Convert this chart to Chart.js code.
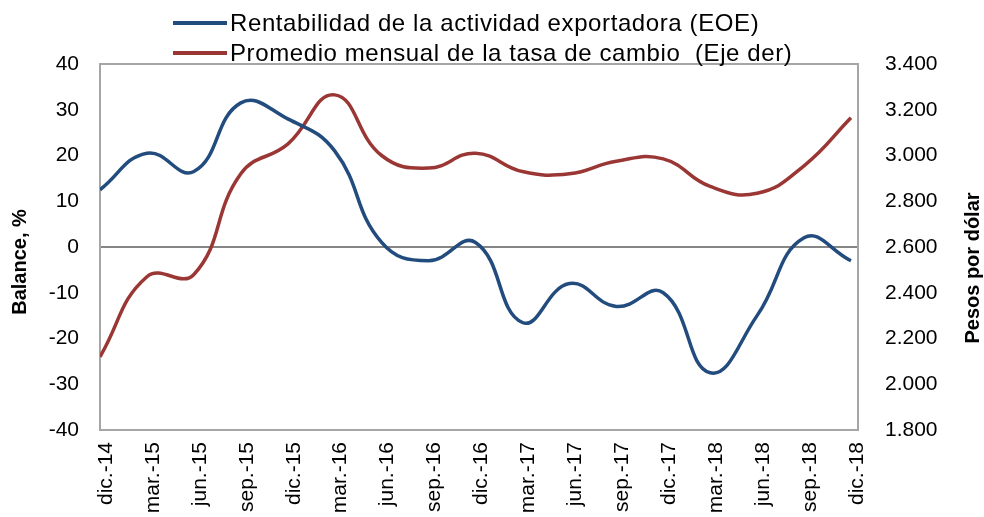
<!DOCTYPE html>
<html>
<head>
<meta charset="utf-8">
<script src="https://cdn.jsdelivr.net/npm/chart.js@4.4.0/dist/chart.umd.min.js"></script>
<style>
  body { margin: 0; background: #fff; }
  #wrap { position: relative; width: 984px; height: 517px; }
  #legend { position: absolute; left: 173px; top: 8px; font-family: "Liberation Sans", Arial, sans-serif; font-size: 24px; letter-spacing: 0.6px; color: #000; }
  .item { display: flex; align-items: center; height: 30px; white-space: pre; }
  .swatch { width: 54px; height: 4px; margin-right: 3px; }
</style>
</head>
<body>
<div id="wrap">
  <canvas id="chart" width="984" height="517"></canvas>
  <div id="legend"></div>
</div>
<script>
// Datos trimestrales
const labels = ['dic.-14', 'mar.-15', 'jun.-15', 'sep.-15', 'dic.-15', 'mar.-16', 'jun.-16', 'sep.-16', 'dic.-16',
  'mar.-17', 'jun.-17', 'sep.-17', 'dic.-17', 'mar.-18', 'jun.-18', 'sep.-18', 'dic.-18'];
const rentabilidad = [12.5, 20.5, 16.5, 31.5, 28, 21, 1, -3, 1, -16.5, -8, -13, -10, -27.5, -15, 2, -3];
const tasaCambio = [2120, 2470, 2480, 2920, 3050, 3265, 3000, 2945, 3010, 2930, 2920, 2975, 2985, 2865, 2835, 2955, 3165];

const nombreEOE = 'Rentabilidad de la actividad exportadora (EOE)';
const nombreTasa = 'Promedio mensual de la tasa de cambio  (Eje der)';
const azul = '#224B7E';
const rojo = '#9A3735';
const gris = '#A6A6A6';
const fuente = '"Liberation Sans", Arial, sans-serif';

// Borde superior del area y titulos de los ejes (los dos leen de abajo hacia arriba)
const extras = {
  id: 'extras',
  afterDraw(chart) {
    const ctx = chart.ctx;
    const a = chart.chartArea;
    ctx.save();
    ctx.strokeStyle = gris;
    ctx.lineWidth = 2;
    ctx.beginPath();
    ctx.moveTo(a.left, a.top);
    ctx.lineTo(a.right, a.top);
    ctx.stroke();
    ctx.font = 'bold 20px ' + fuente;
    ctx.fillStyle = '#000';
    ctx.textAlign = 'center';
    ctx.textBaseline = 'middle';
    [['Balance, %', 20, 262], ['Pesos por dólar', 973, 268]].forEach(t => {
      ctx.save();
      ctx.translate(t[1], t[2]);
      ctx.rotate(-Math.PI / 2);
      ctx.fillText(t[0], 0, 0);
      ctx.restore();
    });
    ctx.restore();
  }
};

const chart = new Chart('chart', {
  type: 'line',
  data: {
    datasets: [{
      label: nombreEOE,
      data: rentabilidad.map((v, i) => ({ x: i, y: v })),
      borderColor: azul,
      borderWidth: 3.5,
      pointRadius: 0,
      tension: 0.45,
      yAxisID: 'y'
    }, {
      label: nombreTasa,
      data: tasaCambio.map((v, i) => ({ x: i, y: v })),
      borderColor: rojo,
      borderWidth: 3.5,
      pointRadius: 0,
      tension: 0.45,
      yAxisID: 'y2'
    }]
  },
  options: {
    responsive: false,
    animation: false,
    layout: { padding: { top: 64 } },
    plugins: { legend: { display: false }, tooltip: { enabled: false } },
    scales: {
      x: {
        type: 'linear',
        min: 0,
        max: 16.15,
        afterBuildTicks: s => { s.ticks = labels.map((l, i) => ({ value: i })); },
        afterFit: s => { s.height = 87; },
        grid: { display: false, drawTicks: false },
        border: { color: gris, width: 2 },
        ticks: {
          callback: v => labels[v],
          minRotation: 90, maxRotation: 90,
          padding: 12,
          labelOffset: 6,
          color: '#000',
          font: { family: fuente, size: 21 }
        }
      },
      y: {
        min: -40, max: 40,
        afterFit: s => { s.width = 100; },
        grid: {
          drawTicks: false,
          lineWidth: 2,
          color: c => c.tick.value === 0 ? '#868686' : 'rgba(0,0,0,0)'
        },
        border: { color: gris, width: 2 },
        ticks: { stepSize: 10, padding: 21, color: '#000', font: { family: fuente, size: 21 } }
      },
      y2: {
        position: 'right',
        min: 1800, max: 3400,
        afterFit: s => { s.width = 126; },
        grid: { display: false, drawTicks: false },
        border: { color: gris, width: 2 },
        ticks: {
          stepSize: 200, padding: 27, color: '#000',
          font: { family: fuente, size: 21 },
          callback: v => (v / 1000).toFixed(3)
        }
      }
    }
  },
  plugins: [extras]
});

// Leyenda en dos filas alineadas a la izquierda
const legend = document.getElementById('legend');
chart.data.datasets.forEach(ds => {
  legend.innerHTML += `<div class="item"><span class="swatch" style="background:${ds.borderColor}"></span>${ds.label}</div>`;
});
</script>
</body>
</html>
